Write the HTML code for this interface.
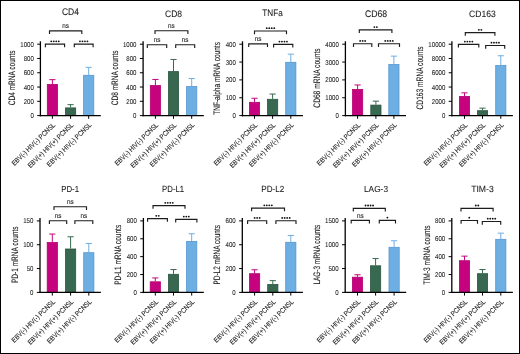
<!DOCTYPE html>
<html><head><meta charset="utf-8"><style>
html,body{margin:0;padding:0;background:#fff;}
body{width:520px;height:354px;overflow:hidden;}
svg{display:block;font-family:"Liberation Sans", sans-serif;text-rendering:geometricPrecision;}
text{stroke:#1a1a1a;stroke-width:0.1px;paint-order:stroke;}
svg{will-change:transform;}
text.t{stroke-width:0.08px;}
</style></head><body>
<svg width="520" height="354" viewBox="0 0 520 354">
<rect x="0" y="0" width="520" height="354" fill="#fff"/>
<rect x="0.5" y="0.5" width="519" height="353" fill="none" stroke="#000" stroke-width="1"/>
<rect x="47.3" y="84.4" width="10.2" height="31.2" fill="#c6037e" stroke="#b3006f" stroke-width="0.8"/>
<path d="M52.4 84V79.65M49.3 79.65H55.5" stroke="#c6037e" stroke-width="1" fill="none"/>
<path d="M52.4 115.6v3.2" stroke="#000" stroke-width="1" fill="none"/>
<text transform="translate(14.38 166.11) rotate(-44.5)" font-size="7" textLength="57.93" lengthAdjust="spacingAndGlyphs" fill="#1a1a1a">EBV(-) HIV(-) PCNSL</text>
<rect x="65.5" y="107.9" width="10.2" height="7.7" fill="#38684f" stroke="#285540" stroke-width="0.8"/>
<path d="M70.6 107.5V104.65M67.5 104.65H73.7" stroke="#38684f" stroke-width="1" fill="none"/>
<path d="M70.6 115.6v3.2" stroke="#000" stroke-width="1" fill="none"/>
<text transform="translate(30.41 168.24) rotate(-44.5)" font-size="7" textLength="60.97" lengthAdjust="spacingAndGlyphs" fill="#1a1a1a">EBV(+) HIV(+) PCNSL</text>
<rect x="83.6" y="75.3" width="10.2" height="40.3" fill="#6daee3" stroke="#5596d2" stroke-width="0.8"/>
<path d="M88.7 74.9V67.35M85.6 67.35H91.8" stroke="#6daee3" stroke-width="1" fill="none"/>
<path d="M88.7 115.6v3.2" stroke="#000" stroke-width="1" fill="none"/>
<text transform="translate(49.59 167.17) rotate(-44.5)" font-size="7" textLength="59.45" lengthAdjust="spacingAndGlyphs" fill="#1a1a1a">EBV(+) HIV(-) PCNSL</text>
<path d="M40.4 41.3V116.3" stroke="#000" stroke-width="1.3" fill="none"/>
<path d="M37.2 44.2H40.4" stroke="#000" stroke-width="1" fill="none"/>
<text class="t" x="20.25" y="46.7" font-size="7" textLength="13.55" lengthAdjust="spacingAndGlyphs" fill="#1a1a1a">1000</text>
<path d="M37.2 58.48H40.4" stroke="#000" stroke-width="1" fill="none"/>
<text class="t" x="23.64" y="60.98" font-size="7" textLength="10.16" lengthAdjust="spacingAndGlyphs" fill="#1a1a1a">800</text>
<path d="M37.2 72.76H40.4" stroke="#000" stroke-width="1" fill="none"/>
<text class="t" x="23.64" y="75.26" font-size="7" textLength="10.16" lengthAdjust="spacingAndGlyphs" fill="#1a1a1a">600</text>
<path d="M37.2 87.04H40.4" stroke="#000" stroke-width="1" fill="none"/>
<text class="t" x="23.64" y="89.54" font-size="7" textLength="10.16" lengthAdjust="spacingAndGlyphs" fill="#1a1a1a">400</text>
<path d="M37.2 101.32H40.4" stroke="#000" stroke-width="1" fill="none"/>
<text class="t" x="23.64" y="103.82" font-size="7" textLength="10.16" lengthAdjust="spacingAndGlyphs" fill="#1a1a1a">200</text>
<path d="M37.2 115.6H40.4" stroke="#000" stroke-width="1" fill="none"/>
<text class="t" x="30.41" y="118.1" font-size="7" textLength="3.39" lengthAdjust="spacingAndGlyphs" fill="#1a1a1a">0</text>
<path d="M39.8 115.6H100.8" stroke="#000" stroke-width="1.3" fill="none"/>
<path d="M49.5 34V30.8H81.8V34" stroke="#1c1c1c" stroke-width="1.15" fill="none"/>
<text x="62.3" y="28.2" font-size="7" textLength="6.7" lengthAdjust="spacingAndGlyphs" fill="#1a1a1a">ns</text>
<path d="M45.4 47.3V44.1H64.6V47.3" stroke="#1c1c1c" stroke-width="1.15" fill="none"/>
<circle cx="51.25" cy="41.3" r="0.92" fill="#111"/>
<circle cx="53.75" cy="41.3" r="0.92" fill="#111"/>
<circle cx="56.25" cy="41.3" r="0.92" fill="#111"/>
<circle cx="58.75" cy="41.3" r="0.92" fill="#111"/>
<path d="M74.3 47.3V44.1H93.1V47.3" stroke="#1c1c1c" stroke-width="1.15" fill="none"/>
<circle cx="79.95" cy="41.3" r="0.92" fill="#111"/>
<circle cx="82.45" cy="41.3" r="0.92" fill="#111"/>
<circle cx="84.95" cy="41.3" r="0.92" fill="#111"/>
<circle cx="87.45" cy="41.3" r="0.92" fill="#111"/>
<text class="t" x="61.9" y="14.55" font-size="9.6" textLength="17.1" lengthAdjust="spacingAndGlyphs" fill="#1a1a1a">CD4</text>
<text transform="translate(14.9 105.25) rotate(-90)" font-size="9.4" textLength="54.8" lengthAdjust="spacingAndGlyphs" fill="#1a1a1a">CD4 mRNA counts</text>
<rect x="150.3" y="85.5" width="10.2" height="30.1" fill="#c6037e" stroke="#b3006f" stroke-width="0.8"/>
<path d="M155.4 85.1V79.45M152.3 79.45H158.5" stroke="#c6037e" stroke-width="1" fill="none"/>
<path d="M155.4 115.6v3.2" stroke="#000" stroke-width="1" fill="none"/>
<text transform="translate(117.38 166.11) rotate(-44.5)" font-size="7" textLength="57.93" lengthAdjust="spacingAndGlyphs" fill="#1a1a1a">EBV(-) HIV(-) PCNSL</text>
<rect x="168.4" y="71.6" width="10.2" height="44" fill="#38684f" stroke="#285540" stroke-width="0.8"/>
<path d="M173.5 71.2V59.45M170.4 59.45H176.6" stroke="#38684f" stroke-width="1" fill="none"/>
<path d="M173.5 115.6v3.2" stroke="#000" stroke-width="1" fill="none"/>
<text transform="translate(133.31 168.24) rotate(-44.5)" font-size="7" textLength="60.97" lengthAdjust="spacingAndGlyphs" fill="#1a1a1a">EBV(+) HIV(+) PCNSL</text>
<rect x="186.6" y="86.5" width="10.2" height="29.1" fill="#6daee3" stroke="#5596d2" stroke-width="0.8"/>
<path d="M191.7 86.1V78.55M188.6 78.55H194.8" stroke="#6daee3" stroke-width="1" fill="none"/>
<path d="M191.7 115.6v3.2" stroke="#000" stroke-width="1" fill="none"/>
<text transform="translate(152.59 167.17) rotate(-44.5)" font-size="7" textLength="59.45" lengthAdjust="spacingAndGlyphs" fill="#1a1a1a">EBV(+) HIV(-) PCNSL</text>
<path d="M143.1 41.3V116.3" stroke="#000" stroke-width="1.3" fill="none"/>
<path d="M139.9 44.2H143.1" stroke="#000" stroke-width="1" fill="none"/>
<text class="t" x="122.95" y="46.7" font-size="7" textLength="13.55" lengthAdjust="spacingAndGlyphs" fill="#1a1a1a">1000</text>
<path d="M139.9 58.48H143.1" stroke="#000" stroke-width="1" fill="none"/>
<text class="t" x="126.34" y="60.98" font-size="7" textLength="10.16" lengthAdjust="spacingAndGlyphs" fill="#1a1a1a">800</text>
<path d="M139.9 72.76H143.1" stroke="#000" stroke-width="1" fill="none"/>
<text class="t" x="126.34" y="75.26" font-size="7" textLength="10.16" lengthAdjust="spacingAndGlyphs" fill="#1a1a1a">600</text>
<path d="M139.9 87.04H143.1" stroke="#000" stroke-width="1" fill="none"/>
<text class="t" x="126.34" y="89.54" font-size="7" textLength="10.16" lengthAdjust="spacingAndGlyphs" fill="#1a1a1a">400</text>
<path d="M139.9 101.32H143.1" stroke="#000" stroke-width="1" fill="none"/>
<text class="t" x="126.34" y="103.82" font-size="7" textLength="10.16" lengthAdjust="spacingAndGlyphs" fill="#1a1a1a">200</text>
<path d="M139.9 115.6H143.1" stroke="#000" stroke-width="1" fill="none"/>
<text class="t" x="133.11" y="118.1" font-size="7" textLength="3.39" lengthAdjust="spacingAndGlyphs" fill="#1a1a1a">0</text>
<path d="M142.5 115.6H203.8" stroke="#000" stroke-width="1.3" fill="none"/>
<path d="M155 33.9V30.7H187.9V33.9" stroke="#1c1c1c" stroke-width="1.15" fill="none"/>
<text x="168.1" y="28.1" font-size="7" textLength="6.7" lengthAdjust="spacingAndGlyphs" fill="#1a1a1a">ns</text>
<path d="M147.3 47.95V44.75H166.7V47.95" stroke="#1c1c1c" stroke-width="1.15" fill="none"/>
<text x="153.65" y="42.15" font-size="7" textLength="6.7" lengthAdjust="spacingAndGlyphs" fill="#1a1a1a">ns</text>
<path d="M175.7 47.95V44.75H194.7V47.95" stroke="#1c1c1c" stroke-width="1.15" fill="none"/>
<text x="181.85" y="42.15" font-size="7" textLength="6.7" lengthAdjust="spacingAndGlyphs" fill="#1a1a1a">ns</text>
<text class="t" x="165" y="16.85" font-size="9.3" textLength="17.1" lengthAdjust="spacingAndGlyphs" fill="#1a1a1a">CD8</text>
<text transform="translate(117.7 105.25) rotate(-90)" font-size="9.4" textLength="54.8" lengthAdjust="spacingAndGlyphs" fill="#1a1a1a">CD8 mRNA counts</text>
<rect x="249.4" y="102.3" width="10.2" height="13.3" fill="#c6037e" stroke="#b3006f" stroke-width="0.8"/>
<path d="M254.5 101.9V98.25M251.4 98.25H257.6" stroke="#c6037e" stroke-width="1" fill="none"/>
<path d="M254.5 115.6v3.2" stroke="#000" stroke-width="1" fill="none"/>
<text transform="translate(216.48 166.11) rotate(-44.5)" font-size="7" textLength="57.93" lengthAdjust="spacingAndGlyphs" fill="#1a1a1a">EBV(-) HIV(-) PCNSL</text>
<rect x="267.5" y="99.3" width="10.2" height="16.3" fill="#38684f" stroke="#285540" stroke-width="0.8"/>
<path d="M272.6 98.9V94.05M269.5 94.05H275.7" stroke="#38684f" stroke-width="1" fill="none"/>
<path d="M272.6 115.6v3.2" stroke="#000" stroke-width="1" fill="none"/>
<text transform="translate(232.41 168.24) rotate(-44.5)" font-size="7" textLength="60.97" lengthAdjust="spacingAndGlyphs" fill="#1a1a1a">EBV(+) HIV(+) PCNSL</text>
<rect x="285.7" y="62.3" width="10.2" height="53.3" fill="#6daee3" stroke="#5596d2" stroke-width="0.8"/>
<path d="M290.8 61.9V54.15M287.7 54.15H293.9" stroke="#6daee3" stroke-width="1" fill="none"/>
<path d="M290.8 115.6v3.2" stroke="#000" stroke-width="1" fill="none"/>
<text transform="translate(251.69 167.17) rotate(-44.5)" font-size="7" textLength="59.45" lengthAdjust="spacingAndGlyphs" fill="#1a1a1a">EBV(+) HIV(-) PCNSL</text>
<path d="M242.5 41.3V116.3" stroke="#000" stroke-width="1.3" fill="none"/>
<path d="M239.3 44.2H242.5" stroke="#000" stroke-width="1" fill="none"/>
<text class="t" x="225.74" y="46.7" font-size="7" textLength="10.16" lengthAdjust="spacingAndGlyphs" fill="#1a1a1a">400</text>
<path d="M239.3 62.05H242.5" stroke="#000" stroke-width="1" fill="none"/>
<text class="t" x="225.74" y="64.55" font-size="7" textLength="10.16" lengthAdjust="spacingAndGlyphs" fill="#1a1a1a">300</text>
<path d="M239.3 79.9H242.5" stroke="#000" stroke-width="1" fill="none"/>
<text class="t" x="225.74" y="82.4" font-size="7" textLength="10.16" lengthAdjust="spacingAndGlyphs" fill="#1a1a1a">200</text>
<path d="M239.3 97.75H242.5" stroke="#000" stroke-width="1" fill="none"/>
<text class="t" x="225.74" y="100.25" font-size="7" textLength="10.16" lengthAdjust="spacingAndGlyphs" fill="#1a1a1a">100</text>
<path d="M239.3 115.6H242.5" stroke="#000" stroke-width="1" fill="none"/>
<text class="t" x="232.51" y="118.1" font-size="7" textLength="3.39" lengthAdjust="spacingAndGlyphs" fill="#1a1a1a">0</text>
<path d="M241.9 115.6H302.9" stroke="#000" stroke-width="1.3" fill="none"/>
<path d="M254.5 34.2V31H286.5V34.2" stroke="#1c1c1c" stroke-width="1.15" fill="none"/>
<circle cx="266.75" cy="28.2" r="0.92" fill="#111"/>
<circle cx="269.25" cy="28.2" r="0.92" fill="#111"/>
<circle cx="271.75" cy="28.2" r="0.92" fill="#111"/>
<circle cx="274.25" cy="28.2" r="0.92" fill="#111"/>
<path d="M248.7 47.1V43.9H267.5V47.1" stroke="#1c1c1c" stroke-width="1.15" fill="none"/>
<text x="254.75" y="41.3" font-size="7" textLength="6.7" lengthAdjust="spacingAndGlyphs" fill="#1a1a1a">ns</text>
<path d="M273.6 47.6V44.4H292.8V47.6" stroke="#1c1c1c" stroke-width="1.15" fill="none"/>
<circle cx="279.45" cy="41.6" r="0.92" fill="#111"/>
<circle cx="281.95" cy="41.6" r="0.92" fill="#111"/>
<circle cx="284.45" cy="41.6" r="0.92" fill="#111"/>
<circle cx="286.95" cy="41.6" r="0.92" fill="#111"/>
<text class="t" x="262.3" y="16.45" font-size="9.3" textLength="20.4" lengthAdjust="spacingAndGlyphs" fill="#1a1a1a">TNFa</text>
<text transform="translate(220.2 114.85) rotate(-90)" font-size="9.4" textLength="72.8" lengthAdjust="spacingAndGlyphs" fill="#1a1a1a">TNF-alpha mRNA counts</text>
<rect x="352.5" y="89.4" width="10.2" height="26.2" fill="#c6037e" stroke="#b3006f" stroke-width="0.8"/>
<path d="M357.6 89V84.95M354.5 84.95H360.7" stroke="#c6037e" stroke-width="1" fill="none"/>
<path d="M357.6 115.6v3.2" stroke="#000" stroke-width="1" fill="none"/>
<text transform="translate(319.58 166.11) rotate(-44.5)" font-size="7" textLength="57.93" lengthAdjust="spacingAndGlyphs" fill="#1a1a1a">EBV(-) HIV(-) PCNSL</text>
<rect x="370.8" y="105.1" width="10.2" height="10.5" fill="#38684f" stroke="#285540" stroke-width="0.8"/>
<path d="M375.9 104.7V101.15M372.8 101.15H379" stroke="#38684f" stroke-width="1" fill="none"/>
<path d="M375.9 115.6v3.2" stroke="#000" stroke-width="1" fill="none"/>
<text transform="translate(335.71 168.24) rotate(-44.5)" font-size="7" textLength="60.97" lengthAdjust="spacingAndGlyphs" fill="#1a1a1a">EBV(+) HIV(+) PCNSL</text>
<rect x="388.8" y="64.5" width="10.2" height="51.1" fill="#6daee3" stroke="#5596d2" stroke-width="0.8"/>
<path d="M393.9 64.1V56.15M390.8 56.15H397" stroke="#6daee3" stroke-width="1" fill="none"/>
<path d="M393.9 115.6v3.2" stroke="#000" stroke-width="1" fill="none"/>
<text transform="translate(354.79 167.17) rotate(-44.5)" font-size="7" textLength="59.45" lengthAdjust="spacingAndGlyphs" fill="#1a1a1a">EBV(+) HIV(-) PCNSL</text>
<path d="M345.4 41.3V116.3" stroke="#000" stroke-width="1.3" fill="none"/>
<path d="M342.2 44.2H345.4" stroke="#000" stroke-width="1" fill="none"/>
<text class="t" x="325.25" y="46.7" font-size="7" textLength="13.55" lengthAdjust="spacingAndGlyphs" fill="#1a1a1a">4000</text>
<path d="M342.2 62.05H345.4" stroke="#000" stroke-width="1" fill="none"/>
<text class="t" x="325.25" y="64.55" font-size="7" textLength="13.55" lengthAdjust="spacingAndGlyphs" fill="#1a1a1a">3000</text>
<path d="M342.2 79.9H345.4" stroke="#000" stroke-width="1" fill="none"/>
<text class="t" x="325.25" y="82.4" font-size="7" textLength="13.55" lengthAdjust="spacingAndGlyphs" fill="#1a1a1a">2000</text>
<path d="M342.2 97.75H345.4" stroke="#000" stroke-width="1" fill="none"/>
<text class="t" x="325.25" y="100.25" font-size="7" textLength="13.55" lengthAdjust="spacingAndGlyphs" fill="#1a1a1a">1000</text>
<path d="M342.2 115.6H345.4" stroke="#000" stroke-width="1" fill="none"/>
<text class="t" x="335.41" y="118.1" font-size="7" textLength="3.39" lengthAdjust="spacingAndGlyphs" fill="#1a1a1a">0</text>
<path d="M344.8 115.6H406" stroke="#000" stroke-width="1.3" fill="none"/>
<path d="M359.3 33.1V29.9H391.9V33.1" stroke="#1c1c1c" stroke-width="1.15" fill="none"/>
<circle cx="374.35" cy="27.1" r="0.92" fill="#111"/>
<circle cx="376.85" cy="27.1" r="0.92" fill="#111"/>
<path d="M353.5 46.9V43.7H371.8V46.9" stroke="#1c1c1c" stroke-width="1.15" fill="none"/>
<circle cx="360.15" cy="40.9" r="0.92" fill="#111"/>
<circle cx="362.65" cy="40.9" r="0.92" fill="#111"/>
<circle cx="365.15" cy="40.9" r="0.92" fill="#111"/>
<path d="M378.5 46.9V43.7H399.5V46.9" stroke="#1c1c1c" stroke-width="1.15" fill="none"/>
<circle cx="385.25" cy="40.9" r="0.92" fill="#111"/>
<circle cx="387.75" cy="40.9" r="0.92" fill="#111"/>
<circle cx="390.25" cy="40.9" r="0.92" fill="#111"/>
<circle cx="392.75" cy="40.9" r="0.92" fill="#111"/>
<text class="t" x="364.9" y="17.25" font-size="9.5" textLength="22.2" lengthAdjust="spacingAndGlyphs" fill="#1a1a1a">CD68</text>
<text transform="translate(320 107.65) rotate(-90)" font-size="9.4" textLength="59.3" lengthAdjust="spacingAndGlyphs" fill="#1a1a1a">CD68 mRNA counts</text>
<rect x="459.4" y="96.4" width="10.2" height="19.2" fill="#c6037e" stroke="#b3006f" stroke-width="0.8"/>
<path d="M464.5 96V92.85M461.4 92.85H467.6" stroke="#c6037e" stroke-width="1" fill="none"/>
<path d="M464.5 115.6v3.2" stroke="#000" stroke-width="1" fill="none"/>
<text transform="translate(426.48 166.11) rotate(-44.5)" font-size="7" textLength="57.93" lengthAdjust="spacingAndGlyphs" fill="#1a1a1a">EBV(-) HIV(-) PCNSL</text>
<rect x="477.4" y="110.7" width="10.2" height="4.9" fill="#38684f" stroke="#285540" stroke-width="0.8"/>
<path d="M482.5 110.3V108.15M479.4 108.15H485.6" stroke="#38684f" stroke-width="1" fill="none"/>
<path d="M482.5 115.6v3.2" stroke="#000" stroke-width="1" fill="none"/>
<text transform="translate(442.31 168.24) rotate(-44.5)" font-size="7" textLength="60.97" lengthAdjust="spacingAndGlyphs" fill="#1a1a1a">EBV(+) HIV(+) PCNSL</text>
<rect x="495.7" y="65.5" width="10.2" height="50.1" fill="#6daee3" stroke="#5596d2" stroke-width="0.8"/>
<path d="M500.8 65.1V55.75M497.7 55.75H503.9" stroke="#6daee3" stroke-width="1" fill="none"/>
<path d="M500.8 115.6v3.2" stroke="#000" stroke-width="1" fill="none"/>
<text transform="translate(461.69 167.17) rotate(-44.5)" font-size="7" textLength="59.45" lengthAdjust="spacingAndGlyphs" fill="#1a1a1a">EBV(+) HIV(-) PCNSL</text>
<path d="M451.9 41.3V116.3" stroke="#000" stroke-width="1.3" fill="none"/>
<path d="M448.7 44.2H451.9" stroke="#000" stroke-width="1" fill="none"/>
<text class="t" x="428.36" y="46.7" font-size="7" textLength="16.94" lengthAdjust="spacingAndGlyphs" fill="#1a1a1a">10000</text>
<path d="M448.7 58.48H451.9" stroke="#000" stroke-width="1" fill="none"/>
<text class="t" x="431.75" y="60.98" font-size="7" textLength="13.55" lengthAdjust="spacingAndGlyphs" fill="#1a1a1a">8000</text>
<path d="M448.7 72.76H451.9" stroke="#000" stroke-width="1" fill="none"/>
<text class="t" x="431.75" y="75.26" font-size="7" textLength="13.55" lengthAdjust="spacingAndGlyphs" fill="#1a1a1a">6000</text>
<path d="M448.7 87.04H451.9" stroke="#000" stroke-width="1" fill="none"/>
<text class="t" x="431.75" y="89.54" font-size="7" textLength="13.55" lengthAdjust="spacingAndGlyphs" fill="#1a1a1a">4000</text>
<path d="M448.7 101.32H451.9" stroke="#000" stroke-width="1" fill="none"/>
<text class="t" x="431.75" y="103.82" font-size="7" textLength="13.55" lengthAdjust="spacingAndGlyphs" fill="#1a1a1a">2000</text>
<path d="M448.7 115.6H451.9" stroke="#000" stroke-width="1" fill="none"/>
<text class="t" x="441.91" y="118.1" font-size="7" textLength="3.39" lengthAdjust="spacingAndGlyphs" fill="#1a1a1a">0</text>
<path d="M451.3 115.6H512.9" stroke="#000" stroke-width="1.3" fill="none"/>
<path d="M465.3 35.8V32.6H494.9V35.8" stroke="#1c1c1c" stroke-width="1.15" fill="none"/>
<circle cx="478.85" cy="29.8" r="0.92" fill="#111"/>
<circle cx="481.35" cy="29.8" r="0.92" fill="#111"/>
<path d="M458.4 47.6V44.4H478.8V47.6" stroke="#1c1c1c" stroke-width="1.15" fill="none"/>
<circle cx="464.85" cy="41.6" r="0.92" fill="#111"/>
<circle cx="467.35" cy="41.6" r="0.92" fill="#111"/>
<circle cx="469.85" cy="41.6" r="0.92" fill="#111"/>
<circle cx="472.35" cy="41.6" r="0.92" fill="#111"/>
<path d="M485.7 48.7V45.5H504.7V48.7" stroke="#1c1c1c" stroke-width="1.15" fill="none"/>
<circle cx="491.45" cy="42.7" r="0.92" fill="#111"/>
<circle cx="493.95" cy="42.7" r="0.92" fill="#111"/>
<circle cx="496.45" cy="42.7" r="0.92" fill="#111"/>
<circle cx="498.95" cy="42.7" r="0.92" fill="#111"/>
<text class="t" x="469.1" y="16.65" font-size="9.2" textLength="26.7" lengthAdjust="spacingAndGlyphs" fill="#1a1a1a">CD163</text>
<text transform="translate(422.8 109.45) rotate(-90)" font-size="9.4" textLength="63.1" lengthAdjust="spacingAndGlyphs" fill="#1a1a1a">CD163 mRNA counts</text>
<rect x="47.2" y="242.5" width="10.2" height="49.9" fill="#c6037e" stroke="#b3006f" stroke-width="0.8"/>
<path d="M52.3 242.1V234.05M49.2 234.05H55.4" stroke="#c6037e" stroke-width="1" fill="none"/>
<path d="M52.3 292.4v3.2" stroke="#000" stroke-width="1" fill="none"/>
<text transform="translate(14.28 342.91) rotate(-44.5)" font-size="7" textLength="57.93" lengthAdjust="spacingAndGlyphs" fill="#1a1a1a">EBV(-) HIV(-) PCNSL</text>
<rect x="65.5" y="249" width="10.2" height="43.4" fill="#38684f" stroke="#285540" stroke-width="0.8"/>
<path d="M70.6 248.6V236.75M67.5 236.75H73.7" stroke="#38684f" stroke-width="1" fill="none"/>
<path d="M70.6 292.4v3.2" stroke="#000" stroke-width="1" fill="none"/>
<text transform="translate(30.41 345.04) rotate(-44.5)" font-size="7" textLength="60.97" lengthAdjust="spacingAndGlyphs" fill="#1a1a1a">EBV(+) HIV(+) PCNSL</text>
<rect x="83.7" y="252.7" width="10.2" height="39.7" fill="#6daee3" stroke="#5596d2" stroke-width="0.8"/>
<path d="M88.8 252.3V243.45M85.7 243.45H91.9" stroke="#6daee3" stroke-width="1" fill="none"/>
<path d="M88.8 292.4v3.2" stroke="#000" stroke-width="1" fill="none"/>
<text transform="translate(49.69 343.97) rotate(-44.5)" font-size="7" textLength="59.45" lengthAdjust="spacingAndGlyphs" fill="#1a1a1a">EBV(+) HIV(-) PCNSL</text>
<path d="M40 218V293.1" stroke="#000" stroke-width="1.3" fill="none"/>
<path d="M36.8 220.9H40" stroke="#000" stroke-width="1" fill="none"/>
<text class="t" x="23.24" y="223.4" font-size="7" textLength="10.16" lengthAdjust="spacingAndGlyphs" fill="#1a1a1a">150</text>
<path d="M36.8 244.73H40" stroke="#000" stroke-width="1" fill="none"/>
<text class="t" x="23.24" y="247.23" font-size="7" textLength="10.16" lengthAdjust="spacingAndGlyphs" fill="#1a1a1a">100</text>
<path d="M36.8 268.57H40" stroke="#000" stroke-width="1" fill="none"/>
<text class="t" x="26.63" y="271.07" font-size="7" textLength="6.77" lengthAdjust="spacingAndGlyphs" fill="#1a1a1a">50</text>
<path d="M36.8 292.4H40" stroke="#000" stroke-width="1" fill="none"/>
<text class="t" x="30.01" y="294.9" font-size="7" textLength="3.39" lengthAdjust="spacingAndGlyphs" fill="#1a1a1a">0</text>
<path d="M39.4 292.4H100.9" stroke="#000" stroke-width="1.3" fill="none"/>
<path d="M54 209.9V206.7H86.5V209.9" stroke="#1c1c1c" stroke-width="1.15" fill="none"/>
<text x="66.9" y="204.1" font-size="7" textLength="6.7" lengthAdjust="spacingAndGlyphs" fill="#1a1a1a">ns</text>
<path d="M49.4 223.95V220.75H66.7V223.95" stroke="#1c1c1c" stroke-width="1.15" fill="none"/>
<text x="54.7" y="218.15" font-size="7" textLength="6.7" lengthAdjust="spacingAndGlyphs" fill="#1a1a1a">ns</text>
<path d="M74.9 223.95V220.75H92.8V223.95" stroke="#1c1c1c" stroke-width="1.15" fill="none"/>
<text x="80.5" y="218.15" font-size="7" textLength="6.7" lengthAdjust="spacingAndGlyphs" fill="#1a1a1a">ns</text>
<text class="t" x="61.2" y="192.45" font-size="8.7" textLength="17.8" lengthAdjust="spacingAndGlyphs" fill="#1a1a1a">PD-1</text>
<text transform="translate(17.9 283.05) rotate(-90)" font-size="9.4" textLength="56.6" lengthAdjust="spacingAndGlyphs" fill="#1a1a1a">PD-1 mRNA counts</text>
<rect x="150.2" y="281.8" width="10.2" height="10.6" fill="#c6037e" stroke="#b3006f" stroke-width="0.8"/>
<path d="M155.3 281.4V277.95M152.2 277.95H158.4" stroke="#c6037e" stroke-width="1" fill="none"/>
<path d="M155.3 292.4v3.2" stroke="#000" stroke-width="1" fill="none"/>
<text transform="translate(117.28 342.91) rotate(-44.5)" font-size="7" textLength="57.93" lengthAdjust="spacingAndGlyphs" fill="#1a1a1a">EBV(-) HIV(-) PCNSL</text>
<rect x="168.4" y="274.3" width="10.2" height="18.1" fill="#38684f" stroke="#285540" stroke-width="0.8"/>
<path d="M173.5 273.9V269.55M170.4 269.55H176.6" stroke="#38684f" stroke-width="1" fill="none"/>
<path d="M173.5 292.4v3.2" stroke="#000" stroke-width="1" fill="none"/>
<text transform="translate(133.31 345.04) rotate(-44.5)" font-size="7" textLength="60.97" lengthAdjust="spacingAndGlyphs" fill="#1a1a1a">EBV(+) HIV(+) PCNSL</text>
<rect x="186.6" y="241.4" width="10.2" height="51" fill="#6daee3" stroke="#5596d2" stroke-width="0.8"/>
<path d="M191.7 241V233.75M188.6 233.75H194.8" stroke="#6daee3" stroke-width="1" fill="none"/>
<path d="M191.7 292.4v3.2" stroke="#000" stroke-width="1" fill="none"/>
<text transform="translate(152.59 343.97) rotate(-44.5)" font-size="7" textLength="59.45" lengthAdjust="spacingAndGlyphs" fill="#1a1a1a">EBV(+) HIV(-) PCNSL</text>
<path d="M143.4 218V293.1" stroke="#000" stroke-width="1.3" fill="none"/>
<path d="M140.2 220.9H143.4" stroke="#000" stroke-width="1" fill="none"/>
<text class="t" x="126.64" y="223.4" font-size="7" textLength="10.16" lengthAdjust="spacingAndGlyphs" fill="#1a1a1a">800</text>
<path d="M140.2 238.78H143.4" stroke="#000" stroke-width="1" fill="none"/>
<text class="t" x="126.64" y="241.28" font-size="7" textLength="10.16" lengthAdjust="spacingAndGlyphs" fill="#1a1a1a">600</text>
<path d="M140.2 256.65H143.4" stroke="#000" stroke-width="1" fill="none"/>
<text class="t" x="126.64" y="259.15" font-size="7" textLength="10.16" lengthAdjust="spacingAndGlyphs" fill="#1a1a1a">400</text>
<path d="M140.2 274.52H143.4" stroke="#000" stroke-width="1" fill="none"/>
<text class="t" x="126.64" y="277.02" font-size="7" textLength="10.16" lengthAdjust="spacingAndGlyphs" fill="#1a1a1a">200</text>
<path d="M140.2 292.4H143.4" stroke="#000" stroke-width="1" fill="none"/>
<text class="t" x="133.41" y="294.9" font-size="7" textLength="3.39" lengthAdjust="spacingAndGlyphs" fill="#1a1a1a">0</text>
<path d="M142.8 292.4H203.8" stroke="#000" stroke-width="1.3" fill="none"/>
<path d="M153 208.8V205.6H185V208.8" stroke="#1c1c1c" stroke-width="1.15" fill="none"/>
<circle cx="165.25" cy="202.8" r="0.92" fill="#111"/>
<circle cx="167.75" cy="202.8" r="0.92" fill="#111"/>
<circle cx="170.25" cy="202.8" r="0.92" fill="#111"/>
<circle cx="172.75" cy="202.8" r="0.92" fill="#111"/>
<path d="M147.6 221.8V218.6H167.4V221.8" stroke="#1c1c1c" stroke-width="1.15" fill="none"/>
<circle cx="156.25" cy="215.8" r="0.92" fill="#111"/>
<circle cx="158.75" cy="215.8" r="0.92" fill="#111"/>
<path d="M175.7 222.6V219.4H196.9V222.6" stroke="#1c1c1c" stroke-width="1.15" fill="none"/>
<circle cx="183.8" cy="216.6" r="0.92" fill="#111"/>
<circle cx="186.3" cy="216.6" r="0.92" fill="#111"/>
<circle cx="188.8" cy="216.6" r="0.92" fill="#111"/>
<text class="t" x="162.1" y="192.45" font-size="8.9" textLength="22" lengthAdjust="spacingAndGlyphs" fill="#1a1a1a">PD-L1</text>
<text transform="translate(120.6 284.85) rotate(-90)" font-size="9.4" textLength="60" lengthAdjust="spacingAndGlyphs" fill="#1a1a1a">PD-L1 mRNA counts</text>
<rect x="249.5" y="273.7" width="10.2" height="18.7" fill="#c6037e" stroke="#b3006f" stroke-width="0.8"/>
<path d="M254.6 273.3V269.75M251.5 269.75H257.7" stroke="#c6037e" stroke-width="1" fill="none"/>
<path d="M254.6 292.4v3.2" stroke="#000" stroke-width="1" fill="none"/>
<text transform="translate(216.58 342.91) rotate(-44.5)" font-size="7" textLength="57.93" lengthAdjust="spacingAndGlyphs" fill="#1a1a1a">EBV(-) HIV(-) PCNSL</text>
<rect x="267.7" y="284.5" width="10.2" height="7.9" fill="#38684f" stroke="#285540" stroke-width="0.8"/>
<path d="M272.8 284.1V280.65M269.7 280.65H275.9" stroke="#38684f" stroke-width="1" fill="none"/>
<path d="M272.8 292.4v3.2" stroke="#000" stroke-width="1" fill="none"/>
<text transform="translate(232.61 345.04) rotate(-44.5)" font-size="7" textLength="60.97" lengthAdjust="spacingAndGlyphs" fill="#1a1a1a">EBV(+) HIV(+) PCNSL</text>
<rect x="285.7" y="242.3" width="10.2" height="50.1" fill="#6daee3" stroke="#5596d2" stroke-width="0.8"/>
<path d="M290.8 241.9V235.45M287.7 235.45H293.9" stroke="#6daee3" stroke-width="1" fill="none"/>
<path d="M290.8 292.4v3.2" stroke="#000" stroke-width="1" fill="none"/>
<text transform="translate(251.69 343.97) rotate(-44.5)" font-size="7" textLength="59.45" lengthAdjust="spacingAndGlyphs" fill="#1a1a1a">EBV(+) HIV(-) PCNSL</text>
<path d="M242.3 218V293.1" stroke="#000" stroke-width="1.3" fill="none"/>
<path d="M239.1 220.9H242.3" stroke="#000" stroke-width="1" fill="none"/>
<text class="t" x="225.54" y="223.4" font-size="7" textLength="10.16" lengthAdjust="spacingAndGlyphs" fill="#1a1a1a">600</text>
<path d="M239.1 244.73H242.3" stroke="#000" stroke-width="1" fill="none"/>
<text class="t" x="225.54" y="247.23" font-size="7" textLength="10.16" lengthAdjust="spacingAndGlyphs" fill="#1a1a1a">400</text>
<path d="M239.1 268.57H242.3" stroke="#000" stroke-width="1" fill="none"/>
<text class="t" x="225.54" y="271.07" font-size="7" textLength="10.16" lengthAdjust="spacingAndGlyphs" fill="#1a1a1a">200</text>
<path d="M239.1 292.4H242.3" stroke="#000" stroke-width="1" fill="none"/>
<text class="t" x="232.31" y="294.9" font-size="7" textLength="3.39" lengthAdjust="spacingAndGlyphs" fill="#1a1a1a">0</text>
<path d="M241.7 292.4H302.9" stroke="#000" stroke-width="1.3" fill="none"/>
<path d="M251.6 211.3V208.1H284.5V211.3" stroke="#1c1c1c" stroke-width="1.15" fill="none"/>
<circle cx="264.3" cy="205.3" r="0.92" fill="#111"/>
<circle cx="266.8" cy="205.3" r="0.92" fill="#111"/>
<circle cx="269.3" cy="205.3" r="0.92" fill="#111"/>
<circle cx="271.8" cy="205.3" r="0.92" fill="#111"/>
<path d="M247.6 223.95V220.75H266.7V223.95" stroke="#1c1c1c" stroke-width="1.15" fill="none"/>
<circle cx="254.65" cy="217.95" r="0.92" fill="#111"/>
<circle cx="257.15" cy="217.95" r="0.92" fill="#111"/>
<circle cx="259.65" cy="217.95" r="0.92" fill="#111"/>
<path d="M275.9 223.95V220.75H296V223.95" stroke="#1c1c1c" stroke-width="1.15" fill="none"/>
<circle cx="282.2" cy="217.95" r="0.92" fill="#111"/>
<circle cx="284.7" cy="217.95" r="0.92" fill="#111"/>
<circle cx="287.2" cy="217.95" r="0.92" fill="#111"/>
<circle cx="289.7" cy="217.95" r="0.92" fill="#111"/>
<text class="t" x="261.3" y="192.45" font-size="8.9" textLength="22.9" lengthAdjust="spacingAndGlyphs" fill="#1a1a1a">PD-L2</text>
<text transform="translate(220 284.55) rotate(-90)" font-size="9.4" textLength="59.5" lengthAdjust="spacingAndGlyphs" fill="#1a1a1a">PD-L2 mRNA counts</text>
<rect x="352.4" y="277.2" width="10.2" height="15.2" fill="#c6037e" stroke="#b3006f" stroke-width="0.8"/>
<path d="M357.5 276.8V274.75M354.4 274.75H360.6" stroke="#c6037e" stroke-width="1" fill="none"/>
<path d="M357.5 292.4v3.2" stroke="#000" stroke-width="1" fill="none"/>
<text transform="translate(319.48 342.91) rotate(-44.5)" font-size="7" textLength="57.93" lengthAdjust="spacingAndGlyphs" fill="#1a1a1a">EBV(-) HIV(-) PCNSL</text>
<rect x="370.5" y="265.8" width="10.2" height="26.6" fill="#38684f" stroke="#285540" stroke-width="0.8"/>
<path d="M375.6 265.4V258.55M372.5 258.55H378.7" stroke="#38684f" stroke-width="1" fill="none"/>
<path d="M375.6 292.4v3.2" stroke="#000" stroke-width="1" fill="none"/>
<text transform="translate(335.41 345.04) rotate(-44.5)" font-size="7" textLength="60.97" lengthAdjust="spacingAndGlyphs" fill="#1a1a1a">EBV(+) HIV(+) PCNSL</text>
<rect x="389" y="247.3" width="10.2" height="45.1" fill="#6daee3" stroke="#5596d2" stroke-width="0.8"/>
<path d="M394.1 246.9V240.75M391 240.75H397.2" stroke="#6daee3" stroke-width="1" fill="none"/>
<path d="M394.1 292.4v3.2" stroke="#000" stroke-width="1" fill="none"/>
<text transform="translate(354.99 343.97) rotate(-44.5)" font-size="7" textLength="59.45" lengthAdjust="spacingAndGlyphs" fill="#1a1a1a">EBV(+) HIV(-) PCNSL</text>
<path d="M345.2 218V293.1" stroke="#000" stroke-width="1.3" fill="none"/>
<path d="M342 220.9H345.2" stroke="#000" stroke-width="1" fill="none"/>
<text class="t" x="325.05" y="223.4" font-size="7" textLength="13.55" lengthAdjust="spacingAndGlyphs" fill="#1a1a1a">1500</text>
<path d="M342 244.73H345.2" stroke="#000" stroke-width="1" fill="none"/>
<text class="t" x="325.05" y="247.23" font-size="7" textLength="13.55" lengthAdjust="spacingAndGlyphs" fill="#1a1a1a">1000</text>
<path d="M342 268.57H345.2" stroke="#000" stroke-width="1" fill="none"/>
<text class="t" x="328.44" y="271.07" font-size="7" textLength="10.16" lengthAdjust="spacingAndGlyphs" fill="#1a1a1a">500</text>
<path d="M342 292.4H345.2" stroke="#000" stroke-width="1" fill="none"/>
<text class="t" x="335.21" y="294.9" font-size="7" textLength="3.39" lengthAdjust="spacingAndGlyphs" fill="#1a1a1a">0</text>
<path d="M344.6 292.4H406.2" stroke="#000" stroke-width="1.3" fill="none"/>
<path d="M353.3 211.5V208.3H385.3V211.5" stroke="#1c1c1c" stroke-width="1.15" fill="none"/>
<circle cx="365.55" cy="205.5" r="0.92" fill="#111"/>
<circle cx="368.05" cy="205.5" r="0.92" fill="#111"/>
<circle cx="370.55" cy="205.5" r="0.92" fill="#111"/>
<circle cx="373.05" cy="205.5" r="0.92" fill="#111"/>
<path d="M351.2 223.6V220.4H369.4V223.6" stroke="#1c1c1c" stroke-width="1.15" fill="none"/>
<text x="356.95" y="217.8" font-size="7" textLength="6.7" lengthAdjust="spacingAndGlyphs" fill="#1a1a1a">ns</text>
<path d="M379.3 223.6V220.4H395.5V223.6" stroke="#1c1c1c" stroke-width="1.15" fill="none"/>
<circle cx="387.4" cy="217.6" r="0.92" fill="#111"/>
<text class="t" x="364" y="192.45" font-size="8.7" textLength="24" lengthAdjust="spacingAndGlyphs" fill="#1a1a1a">LAG-3</text>
<text transform="translate(319.9 284.55) rotate(-90)" font-size="9.4" textLength="59.7" lengthAdjust="spacingAndGlyphs" fill="#1a1a1a">LAG-3 mRNA counts</text>
<rect x="459.4" y="260.7" width="10.2" height="31.7" fill="#c6037e" stroke="#b3006f" stroke-width="0.8"/>
<path d="M464.5 260.3V256.15M461.4 256.15H467.6" stroke="#c6037e" stroke-width="1" fill="none"/>
<path d="M464.5 292.4v3.2" stroke="#000" stroke-width="1" fill="none"/>
<text transform="translate(426.48 342.91) rotate(-44.5)" font-size="7" textLength="57.93" lengthAdjust="spacingAndGlyphs" fill="#1a1a1a">EBV(-) HIV(-) PCNSL</text>
<rect x="477.4" y="273.7" width="10.2" height="18.7" fill="#38684f" stroke="#285540" stroke-width="0.8"/>
<path d="M482.5 273.3V269.55M479.4 269.55H485.6" stroke="#38684f" stroke-width="1" fill="none"/>
<path d="M482.5 292.4v3.2" stroke="#000" stroke-width="1" fill="none"/>
<text transform="translate(442.31 345.04) rotate(-44.5)" font-size="7" textLength="60.97" lengthAdjust="spacingAndGlyphs" fill="#1a1a1a">EBV(+) HIV(+) PCNSL</text>
<rect x="495.7" y="239.3" width="10.2" height="53.1" fill="#6daee3" stroke="#5596d2" stroke-width="0.8"/>
<path d="M500.8 238.9V233.15M497.7 233.15H503.9" stroke="#6daee3" stroke-width="1" fill="none"/>
<path d="M500.8 292.4v3.2" stroke="#000" stroke-width="1" fill="none"/>
<text transform="translate(461.69 343.97) rotate(-44.5)" font-size="7" textLength="59.45" lengthAdjust="spacingAndGlyphs" fill="#1a1a1a">EBV(+) HIV(-) PCNSL</text>
<path d="M451.8 218V293.1" stroke="#000" stroke-width="1.3" fill="none"/>
<path d="M448.6 220.9H451.8" stroke="#000" stroke-width="1" fill="none"/>
<text class="t" x="435.04" y="223.4" font-size="7" textLength="10.16" lengthAdjust="spacingAndGlyphs" fill="#1a1a1a">800</text>
<path d="M448.6 238.78H451.8" stroke="#000" stroke-width="1" fill="none"/>
<text class="t" x="435.04" y="241.28" font-size="7" textLength="10.16" lengthAdjust="spacingAndGlyphs" fill="#1a1a1a">600</text>
<path d="M448.6 256.65H451.8" stroke="#000" stroke-width="1" fill="none"/>
<text class="t" x="435.04" y="259.15" font-size="7" textLength="10.16" lengthAdjust="spacingAndGlyphs" fill="#1a1a1a">400</text>
<path d="M448.6 274.52H451.8" stroke="#000" stroke-width="1" fill="none"/>
<text class="t" x="435.04" y="277.02" font-size="7" textLength="10.16" lengthAdjust="spacingAndGlyphs" fill="#1a1a1a">200</text>
<path d="M448.6 292.4H451.8" stroke="#000" stroke-width="1" fill="none"/>
<text class="t" x="441.81" y="294.9" font-size="7" textLength="3.39" lengthAdjust="spacingAndGlyphs" fill="#1a1a1a">0</text>
<path d="M451.2 292.4H512.9" stroke="#000" stroke-width="1.3" fill="none"/>
<path d="M461 211.5V208.3H493.1V211.5" stroke="#1c1c1c" stroke-width="1.15" fill="none"/>
<circle cx="475.8" cy="205.5" r="0.92" fill="#111"/>
<circle cx="478.3" cy="205.5" r="0.92" fill="#111"/>
<path d="M461.1 223.7V220.5H477.5V223.7" stroke="#1c1c1c" stroke-width="1.15" fill="none"/>
<circle cx="469.3" cy="217.7" r="0.92" fill="#111"/>
<path d="M482.3 224.7V221.5H500.7V224.7" stroke="#1c1c1c" stroke-width="1.15" fill="none"/>
<circle cx="487.75" cy="218.7" r="0.92" fill="#111"/>
<circle cx="490.25" cy="218.7" r="0.92" fill="#111"/>
<circle cx="492.75" cy="218.7" r="0.92" fill="#111"/>
<circle cx="495.25" cy="218.7" r="0.92" fill="#111"/>
<text class="t" x="471.2" y="192.45" font-size="8.9" textLength="22.5" lengthAdjust="spacingAndGlyphs" fill="#1a1a1a">TIM-3</text>
<text transform="translate(429.5 284.55) rotate(-90)" font-size="9.4" textLength="59.1" lengthAdjust="spacingAndGlyphs" fill="#1a1a1a">TIM-3 mRNA counts</text>
</svg>
</body></html>
